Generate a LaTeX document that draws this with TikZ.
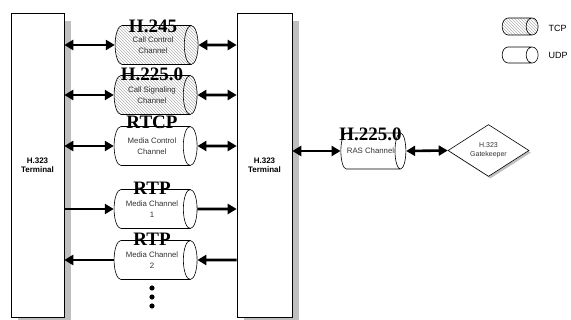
\documentclass[tikz,border=0pt]{standalone}
\usepackage{fontspec}
\setmainfont{Liberation Sans}
\newfontfamily\protofont{Liberation Serif}
\usetikzlibrary{arrows.meta,positioning,shapes.geometric,patterns,shadows}
\tikzset{
  term/.style={rectangle, draw=black, line width=0.6pt, fill=white, minimum width=53pt,
               minimum height=304pt, align=center, font=\fontsize{8}{9.5}\selectfont\bfseries,
               drop shadow={shadow xshift=7pt, shadow yshift=-8pt, fill=black!25, opacity=1}},
  chan/.style={cylinder, draw=black, line width=0.6pt, minimum width=39pt, minimum height=83pt,
               aspect=0.85, align=center, inner sep=0pt, text=black!80,
               font=\fontsize{7.8}{10.5}\selectfont},
  tcp/.style={pattern=north west lines, pattern color=black!30},
  udp/.style={fill=white},
  proto/.style={anchor=base, inner sep=0pt, font=\protofont\bfseries\fontsize{19}{19}\selectfont},
  gate/.style={diamond, draw=black, line width=0.6pt, fill=white, minimum width=81pt,
               minimum height=45pt, inner sep=0pt, align=center, text=black!80,
               font=\fontsize{7}{9}\selectfont,
               drop shadow={shadow xshift=2pt, shadow yshift=-2pt, fill=black!25, opacity=1}},
  lgd/.style={font=\fontsize{9}{10}\selectfont, anchor=west},
  ar/.style={{Triangle[length=9pt,width=10pt]}-{Triangle[length=9pt,width=10pt]}, line width=2.6pt},
  arr/.style={-{Triangle[length=9pt,width=10pt]}, line width=2.6pt},
}
\begin{document}
\begin{tikzpicture}[x=1pt,y=-1pt]
\useasboundingbox (0,0) rectangle (571,320);
% terminals
\node[term] (lt) at (37.5,165) {H.323\\Terminal};
\node[term, minimum width=55pt] (rt) at (264.5,165) {H.323\\Terminal};
% channels
\node[chan, tcp] (ctl) at (153,45) {Call Control\\Channel};
\node[chan, tcp] (sig) at (152,95) {Call Signaling\\Channel};
\node[chan, udp] (rtcp) at (152,146) {Media Control\\Channel};
\node[chan, udp] (rtp1) at (152,209) {Media Channel\\1};
\node[chan, udp] (rtp2) at (152,260) {Media Channel\\2};
\node[chan, udp, minimum height=65pt, minimum width=36pt, aspect=1.9] (ras) at (370.5,151) {RAS Channel};
\node[gate] (gk) at (488.5,150.5) {H.323\\Gatekeeper};
% protocol names
\node[proto] at ([yshift=-7pt]ctl.north) {H.245};
\node[proto] at ([yshift=-5pt]sig.north) {H.225.0};
\node[proto] at ([yshift=-2pt]rtcp.north) {RTCP};
\node[proto] at ([yshift=-5pt]rtp1.north) {RTP};
\node[proto] at ([yshift=-5pt]rtp2.north) {RTP};
\node[proto] at ([yshift=-8pt]ras.north) {H.225.0};
% arrows
\draw[ar] (lt.east |- ctl) -- (ctl.west);
\draw[ar] (ctl.east) -- (rt.west |- ctl);
\draw[ar] (lt.east |- sig) -- (sig.west);
\draw[ar] (sig.east) -- (rt.west |- sig);
\draw[ar] (lt.east |- rtcp) -- (rtcp.west);
\draw[ar] (rtcp.east) -- (rt.west |- rtcp);
\draw[arr] (lt.east |- rtp1) -- (rtp1.west);
\draw[arr] (rtp1.east) -- (rt.west |- rtp1);
\draw[arr] (rtp2.west) -- (lt.east |- rtp2);
\draw[arr] (rt.west |- rtp2) -- (rtp2.east);
\draw[ar] (rt.east |- ras) -- (ras.west);
\draw[ar] (ras.east) -- (gk.west);
% more channels
\foreach \y in {288,297,306} \fill (152,\y) circle (2.6pt);
% legend
\node[chan, tcp, minimum height=36pt, minimum width=17pt, aspect=1] (ltcp) at (517,26.5) {\rule{0pt}{12pt}};
\node[chan, udp, minimum height=36pt, minimum width=16pt, aspect=1] (ludp) at (517,55) {\rule{0pt}{12pt}};
\node[lgd] at (545,28.5) {TCP};
\node[lgd] at (545,55) {UDP};
\end{tikzpicture}
\end{document}
